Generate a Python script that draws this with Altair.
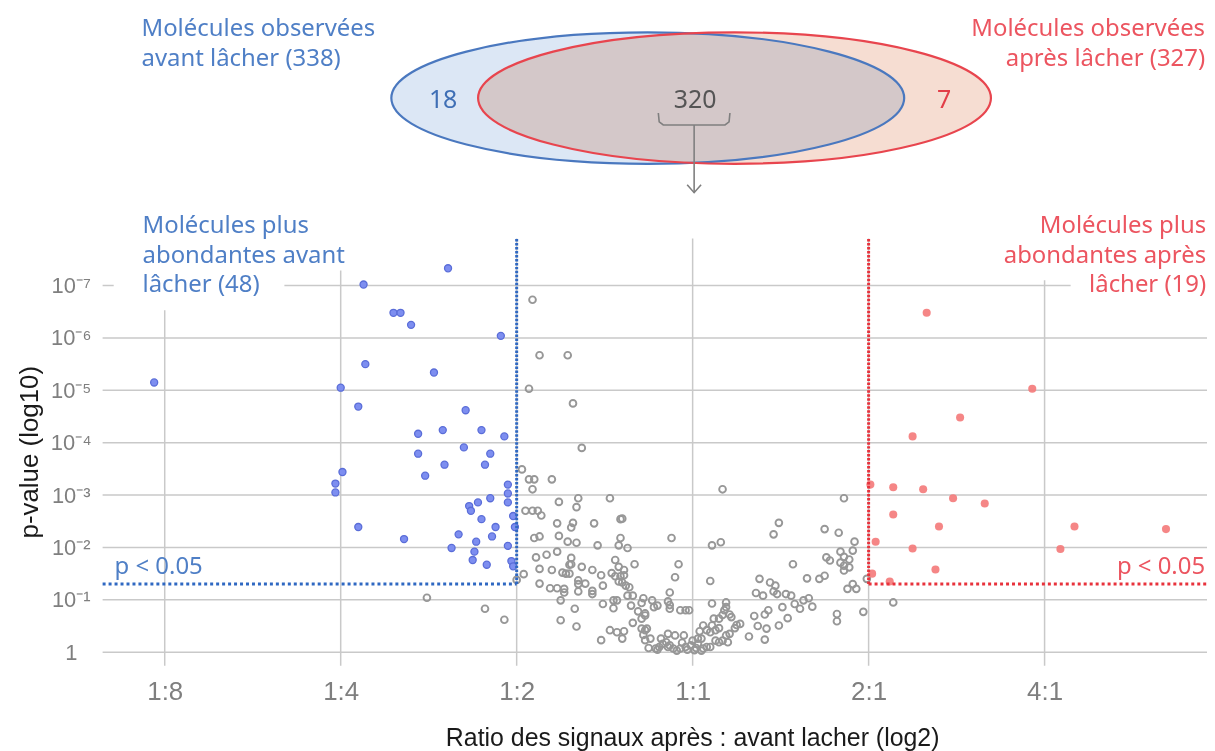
import altair as alt
import pandas as pd

# ---------------- scales (log2 ratio on x, -log10 p on y) ----------------
X_DOMAIN = [-3.353, 2.923]
Y_DOMAIN = [-0.26, 12.27]
GRID_TOP = 7.9
P_LINE = 1.301  # -log10(0.05)

x_tick_values = [-3, -2, -1, 0, 1, 2]
x_tick_labels = ["1:8", "1:4", "1:2", "1:1", "2:1", "4:1"]
y_tick_values = [0, 1, 2, 3, 4, 5, 6, 7]
y_tick_labels = ["1", "10⁻¹", "10⁻²", "10⁻³", "10⁻⁴", "10⁻⁵", "10⁻⁶", "10⁻⁷"]

# ---------------- molecules (log2 ratio, -log10 p) ----------------
gray_points = [
    (-0.91, 6.73), (-0.87, 5.67), (-0.71, 5.67), (-0.93, 5.03), (-0.68, 4.75),
    (-0.63, 3.90), (-0.97, 3.49), (-0.93, 3.30), (-0.90, 3.30), (-0.80, 3.30), (-0.91, 3.11),
    (-0.76, 2.87), (-0.65, 2.94), (-0.66, 2.77), (-0.47, 2.94), (-0.95, 2.70), (-0.91, 2.70),
    (-0.88, 2.70), (-0.86, 2.61), (-0.77, 2.46), (-0.68, 2.47), (-0.69, 2.38), (-0.56, 2.46),
    (-0.41, 2.54), (-0.40, 2.55), (-0.90, 2.18), (-0.87, 2.21), (-0.76, 2.22), (-0.71, 2.11),
    (-0.66, 2.09), (-0.54, 2.04), (-0.41, 2.18), (-0.42, 2.04), (-0.37, 1.99), (-0.77, 1.92),
    (-0.83, 1.86), (-0.89, 1.81), (-0.69, 1.80), (-0.69, 1.68), (-0.70, 1.67), (-0.63, 1.63),
    (-0.57, 1.57), (-0.44, 1.76), (-0.42, 1.63), (-0.39, 1.57), (-0.33, 1.68), (-0.87, 1.59),
    (-0.80, 1.57), (-0.74, 1.52), (-0.72, 1.50), (-0.70, 1.50), (-0.96, 1.49), (-0.52, 1.47),
    (-0.46, 1.51), (-0.44, 1.45), (-0.41, 1.45), (-0.39, 1.47), (-0.42, 1.35), (-0.40, 1.33),
    (-0.38, 1.27), (-0.36, 1.24), (-0.65, 1.37), (-0.65, 1.30), (-0.61, 1.31), (-0.87, 1.31),
    (-0.81, 1.22), (-0.77, 1.22), (-0.73, 1.21), (-0.73, 1.14), (-0.65, 1.16), (-0.57, 1.17),
    (-0.57, 1.11), (-0.51, 1.27), (-0.37, 1.08), (-0.34, 1.08), (-0.28, 1.03), (-0.75, 0.99),
    (-0.45, 0.99), (-0.43, 0.99), (-0.51, 0.92), (-0.45, 0.84), (-0.35, 0.89), (-0.29, 0.94),
    (-0.23, 0.99), (-0.67, 0.83), (-0.31, 0.78), (-0.27, 0.74), (-0.22, 0.86), (-0.27, 0.70),
    (-0.29, 0.64), (-0.34, 0.56), (-0.75, 0.61), (-0.66, 0.49), (-0.47, 0.42), (-0.43, 0.38),
    (-0.39, 0.40), (-0.40, 0.26), (-0.52, 0.23), (-0.29, 0.45), (-0.27, 0.42), (-0.26, 0.45),
    (-0.28, 0.33), (-0.24, 0.26), (-0.27, 0.23), (-0.25, 0.08), (-0.21, 0.07), (-1.00, 1.38),
    (-1.51, 1.04), (-1.18, 0.83), (-1.07, 0.62),
    (0.17, 3.11), (-0.12, 2.18), (0.11, 2.04), (0.16, 2.10), (-0.08, 1.68), (-0.10, 1.43),
    (0.10, 1.36), (-0.13, 1.14), (-0.14, 0.97), (-0.13, 0.90), (-0.13, 0.83), (-0.07, 0.80),
    (-0.04, 0.80), (-0.02, 0.80), (-0.20, 0.89), (0.11, 0.93), (0.19, 0.95), (0.19, 0.86),
    (0.18, 0.80), (0.17, 0.71), (0.12, 0.64), (0.15, 0.64), (0.21, 0.72), (0.22, 0.67),
    (0.11, 0.51), (0.08, 0.42), (0.10, 0.38), (0.13, 0.42), (0.15, 0.46), (0.06, 0.51),
    (0.04, 0.40), (0.25, 0.52), (0.27, 0.54), (0.24, 0.46), (0.21, 0.35), (0.19, 0.32),
    (0.20, 0.19), (0.15, 0.19), (0.08, 0.10), (0.03, 0.16), (-0.01, 0.13), (-0.04, 0.10),
    (-0.07, 0.07), (-0.11, 0.07), (-0.13, 0.13), (-0.15, 0.19), (-0.17, 0.16), (-0.10, 0.32),
    (-0.05, 0.32), (-0.14, 0.35), (-0.18, 0.26), (-0.14, 0.10), (-0.19, 0.10), (-0.20, 0.05),
    (0.00, 0.22), (0.03, 0.26), (0.05, 0.26), (0.06, 0.07), (0.10, 0.10), (0.13, 0.22),
    (0.17, 0.22), (-0.09, 0.03), (-0.03, 0.05), (0.01, 0.04), (0.05, 0.03), (-0.06, 0.18),
    (0.02, 0.08), (0.32, 0.30), (0.37, 0.50), (0.42, 0.45), (0.41, 0.24), (0.49, 0.51),
    (0.54, 0.65), (0.51, 0.86), (0.48, 1.11), (0.53, 1.11), (0.56, 1.08), (0.58, 0.92),
    (0.61, 0.83), (0.63, 0.99), (0.66, 1.03), (0.68, 0.87), (0.44, 1.33), (0.47, 1.27),
    (0.46, 1.16), (0.40, 1.08), (0.36, 1.13), (0.38, 1.40), (0.35, 0.69), (0.41, 0.72),
    (0.43, 0.80), (0.65, 1.41), (0.57, 1.68), (0.49, 2.47), (0.46, 2.25),
    (0.72, 1.40), (0.75, 1.46), (0.82, 0.73), (0.82, 0.59), (0.97, 0.77), (0.99, 1.40),
    (0.88, 1.21), (0.93, 1.21), (0.91, 1.30), (0.83, 2.28), (0.75, 2.35), (0.86, 2.94),
    (0.92, 2.11), (0.91, 1.94), (0.84, 1.92), (0.86, 1.82), (0.89, 1.77), (0.84, 1.71),
    (0.86, 1.65), (0.89, 1.62), (0.76, 1.81), (0.78, 1.75), (0.86, 1.56), (1.14, 0.95),
]

blue_points = [
    (-3.06, 5.15), (-1.39, 7.33), (-1.87, 7.02), (-1.70, 6.48), (-1.66, 6.48), (-1.60, 6.25),
    (-1.09, 6.04), (-1.86, 5.50), (-2.00, 5.05), (-1.90, 4.69), (-1.47, 5.34), (-1.29, 4.62),
    (-1.56, 4.17), (-1.42, 4.24), (-1.20, 4.24), (-1.07, 4.12), (-1.56, 3.79), (-1.30, 3.91),
    (-1.15, 3.79), (-1.41, 3.58), (-1.18, 3.58), (-1.52, 3.37), (-1.05, 3.20), (-1.05, 3.03),
    (-1.15, 2.94), (-1.05, 2.86), (-1.22, 2.86), (-1.27, 2.79), (-1.26, 2.70), (-1.02, 2.60),
    (-1.20, 2.54), (-1.01, 2.39), (-1.12, 2.39), (-1.33, 2.25), (-1.14, 2.21), (-1.64, 2.16),
    (-1.23, 2.11), (-1.37, 1.99), (-1.05, 2.03), (-1.24, 1.92), (-1.25, 1.76), (-1.17, 1.67),
    (-1.03, 1.74), (-1.02, 1.64), (-1.99, 3.44), (-2.03, 3.22), (-2.03, 3.05), (-1.90, 2.39),
]

red_points = [
    (1.33, 6.48), (1.93, 5.03), (1.52, 4.48), (1.25, 4.12), (1.01, 3.20), (1.14, 3.15),
    (1.31, 3.11), (1.48, 2.94), (1.66, 2.84), (1.14, 2.63), (1.40, 2.40), (2.17, 2.40),
    (2.69, 2.35), (1.04, 2.11), (1.25, 1.98), (2.09, 1.97), (1.38, 1.58), (1.02, 1.50),
    (1.12, 1.35),
]

# ---------------- Venn diagram (placed above the volcano plot) ----------------
venn_names = ["avant lâcher", "après lâcher"]
venn_cx = [-0.255, 0.238]
venn_cy = [10.58, 10.58]
venn_counts = ["18", "320", "7"]
venn_count_x = [-1.418, 0.014, 1.429]
venn_count_y = [10.54, 10.54, 10.54]

# bracket under "320" and arrow down to the volcano plot
bracket_x = [-0.195, -0.190, -0.167, 0.184, 0.207, 0.212]
bracket_y = [10.295, 10.124, 10.067, 10.067, 10.124, 10.295]
arrow_x = [0.0085, 0.0085]
arrow_y = [10.067, 8.774]
arrowhead_x = [-0.031, 0.0085, 0.048]
arrowhead_y = [8.926, 8.774, 8.926]

# ---------------- annotation texts ----------------
BLUE_TXT = "#4f7fc6"
RED_TXT = "#ec5560"
left_text = ["Molécules observées", "avant lâcher (338)",
             "Molécules plus", "abondantes avant", "lâcher (48)", "p < 0.05"]
left_text_x = [-3.132, -3.132, -3.126, -3.126, -3.126, -3.285]
left_text_y = [11.76, 11.19, 8.01, 7.44, 6.87, 1.49]
right_text = ["Molécules observées", "après lâcher (327)",
              "Molécules plus", "abondantes après", "lâcher (19)", "p < 0.05"]
right_text_x = [2.912, 2.912, 2.918, 2.918, 2.918, 2.912]
right_text_y = [11.76, 11.19, 8.01, 7.44, 6.87, 1.49]

# white backgrounds behind the two corner text blocks (hide grid lines)
box_x = [-3.29, -2.32, 2.148, 1.75]
box_x2 = [-2.32, -1.98, 2.923, 2.148]
box_y = [6.53, 7.29, 6.72, 7.10]
box_y2 = [7.95, 7.95, 7.95, 7.95]

# ---------------- encodings ----------------
xscale = alt.Scale(domain=X_DOMAIN, nice=False, zero=False)
yscale = alt.Scale(domain=Y_DOMAIN, nice=False, zero=False)

x_label_expr = "[" + ",".join("'%s'" % s for s in x_tick_labels) + "][datum.value + 3]"
y_label_expr = "[" + ",".join("'%s'" % s for s in y_tick_labels) + "][datum.value]"

x_axis = alt.Axis(
    values=x_tick_values, labelExpr=x_label_expr, grid=False, domain=False,
    ticks=False, tickSize=0, labelFlush=False, labelFont="Liberation Sans",
    labelFontSize=26, labelColor="#7f7f7f", labelPadding=13,
    title="Ratio des signaux après : avant lacher (log2)",
    titleFont="Liberation Sans", titleFontSize=25, titleFontWeight="normal",
    titleColor="#1a1a1a", titleX=592, titleY=60, titleAlign="center",
    titleBaseline="top",
)
y_axis = alt.Axis(
    values=y_tick_values, labelExpr=y_label_expr, grid=False, domain=False,
    ticks=False, tickSize=0, labelFlush=False, labelFont="Liberation Sans",
    labelFontSize=22, labelColor="#7f7f7f", labelPadding=32,
    labelAlign="center", labelBaseline="middle",
    title="p-value (log10)", titleFont="Liberation Sans", titleFontSize=26,
    titleFontWeight="normal", titleColor="#1a1a1a", titleAngle=270,
    titleX=-60, titleY=444, titleAlign="center", titleBaseline="bottom",
)


def X(field):
    return alt.X(field, type="quantitative", scale=xscale, axis=x_axis)


def Y(field):
    return alt.Y(field, type="quantitative", scale=yscale, axis=y_axis)


def pts(points):
    return pd.DataFrame(points, columns=["x", "y"])


# grid lines
hgrid = pd.DataFrame({"y": y_tick_values, "x": X_DOMAIN[0], "x2": X_DOMAIN[1]})
vgrid = pd.DataFrame({"x": x_tick_values, "y": Y_DOMAIN[0], "y2": GRID_TOP})
hgrid_layer = alt.Chart(hgrid).mark_rule(color="#c9c9c9", strokeWidth=1.5).encode(
    x=X("x"), x2="x2", y=Y("y"))
vgrid_layer = alt.Chart(vgrid).mark_rule(color="#c9c9c9", strokeWidth=1.5).encode(
    x=X("x"), y=Y("y"), y2="y2")

boxes = pd.DataFrame({"x": box_x, "x2": box_x2, "y": box_y, "y2": box_y2})
box_layer = alt.Chart(boxes).mark_rect(color="white", opacity=1).encode(
    x=X("x"), x2="x2", y=Y("y"), y2="y2")

gray_layer = alt.Chart(pts(gray_points)).mark_point(
    shape="circle", filled=False, color="#979797", strokeWidth=1.9, size=46, opacity=1
).encode(x=X("x"), y=Y("y"))
blue_layer = alt.Chart(pts(blue_points)).mark_point(
    shape="circle", filled=True, fill="#7d8ef0", stroke="#5a6dd8", strokeWidth=1.3,
    size=50, opacity=1
).encode(x=X("x"), y=Y("y"))
red_layer = alt.Chart(pts(red_points)).mark_point(
    shape="circle", filled=True, fill="#f47c7c", strokeWidth=0, size=66, opacity=0.92
).encode(x=X("x"), y=Y("y"))

# significance thresholds (dotted)
thr_h = pd.DataFrame({"x": [X_DOMAIN[0], 1.0], "x2": [-1.0, X_DOMAIN[1]],
                      "y": [P_LINE, P_LINE], "c": ["#2f68c2", "#e8323c"]})
thr_v = pd.DataFrame({"x": [-1.0, 1.0], "y": [P_LINE, P_LINE], "y2": [GRID_TOP, GRID_TOP],
                      "c": ["#2f68c2", "#e8323c"]})
thr_h_layer = alt.Chart(thr_h).mark_rule(strokeWidth=3, strokeDash=[3, 3]).encode(
    x=X("x"), x2="x2", y=Y("y"), color=alt.Color("c:N", scale=None))
thr_v_layer = alt.Chart(thr_v).mark_rule(strokeWidth=3, strokeDash=[2.5, 1.5]).encode(
    x=X("x"), y=Y("y"), y2="y2", color=alt.Color("c:N", scale=None))

# Venn ellipses (custom symbol path, aspect ratio of the drawing)
ASPECT = 0.2563
K = 0.5523
ELLIPSE = (
    f"M -1 0 C -1 {-K*ASPECT:.4f} {-K:.4f} {-ASPECT:.4f} 0 {-ASPECT:.4f} "
    f"C {K:.4f} {-ASPECT:.4f} 1 {-K*ASPECT:.4f} 1 0 "
    f"C 1 {K*ASPECT:.4f} {K:.4f} {ASPECT:.4f} 0 {ASPECT:.4f} "
    f"C {-K:.4f} {ASPECT:.4f} -1 {K*ASPECT:.4f} -1 0 Z"
)
ELLIPSE_SIZE = 515 ** 2

venn = pd.DataFrame({"name": venn_names, "x": venn_cx, "y": venn_cy})
venn_blue = venn[venn["name"] == venn_names[0]]
venn_red = venn[venn["name"] == venn_names[1]]

blue_fill = alt.Chart(venn_blue).mark_point(
    shape=ELLIPSE, size=ELLIPSE_SIZE, filled=True, fill="#dce7f5", strokeWidth=0, opacity=1
).encode(x=X("x"), y=Y("y"))
red_fill = alt.Chart(venn_red).mark_point(
    shape=ELLIPSE, size=ELLIPSE_SIZE, filled=True, fill="#f6ddd2", strokeWidth=0, opacity=1,
    blend="multiply"
).encode(x=X("x"), y=Y("y"))
blue_edge = alt.Chart(venn_blue).mark_point(
    shape=ELLIPSE, size=ELLIPSE_SIZE, filled=False, stroke="#4a78bf", strokeWidth=2.2,
    fillOpacity=0, opacity=1
).encode(x=X("x"), y=Y("y"))
red_edge = alt.Chart(venn_red).mark_point(
    shape=ELLIPSE, size=ELLIPSE_SIZE, filled=False, stroke="#e8454e", strokeWidth=2.2,
    fillOpacity=0, opacity=1
).encode(x=X("x"), y=Y("y"))

counts = pd.DataFrame({"t": venn_counts, "x": venn_count_x, "y": venn_count_y,
                       "c": ["#3f6fb5", "#555555", "#e23e48"]})
counts_layer = alt.Chart(counts).mark_text(
    font="Noto Sans", fontSize=25, align="center", baseline="middle"
).encode(x=X("x"), y=Y("y"), text="t:N", color=alt.Color("c:N", scale=None))

paths = pd.DataFrame({
    "seg": ["bracket"] * len(bracket_x) + ["arrow"] * len(arrow_x) + ["head"] * len(arrowhead_x),
    "o": list(range(len(bracket_x))) + list(range(len(arrow_x))) + list(range(len(arrowhead_x))),
    "x": bracket_x + arrow_x + arrowhead_x,
    "y": bracket_y + arrow_y + arrowhead_y,
})
paths_layer = alt.Chart(paths).mark_line(
    color="#7f7f7f", strokeWidth=1.6, interpolate="linear"
).encode(x=X("x"), y=Y("y"), detail="seg:N", order="o:Q")

ltext = pd.DataFrame({"t": left_text, "x": left_text_x, "y": left_text_y})
rtext = pd.DataFrame({"t": right_text, "x": right_text_x, "y": right_text_y})
ltext_layer = alt.Chart(ltext).mark_text(
    font="Noto Sans", fontSize=24, align="left", baseline="alphabetic", color=BLUE_TXT
).encode(x=X("x"), y=Y("y"), text="t:N")
rtext_layer = alt.Chart(rtext).mark_text(
    font="Noto Sans", fontSize=24, align="right", baseline="alphabetic", color=RED_TXT
).encode(x=X("x"), y=Y("y"), text="t:N")

chart = alt.layer(
    hgrid_layer, vgrid_layer, box_layer, gray_layer, blue_layer, red_layer,
    thr_h_layer, thr_v_layer,
    blue_fill, red_fill, blue_edge, red_edge, paths_layer, counts_layer,
    ltext_layer, rtext_layer,
).properties(
    width=1109, height=659,
    autosize=alt.AutoSizeParams(type="none"),
    padding={"left": 95, "top": 0, "right": 0, "bottom": 86},
    background="white",
).configure_view(strokeWidth=0)

chart.save("out.html", embed_options={"renderer": "svg", "actions": False})
